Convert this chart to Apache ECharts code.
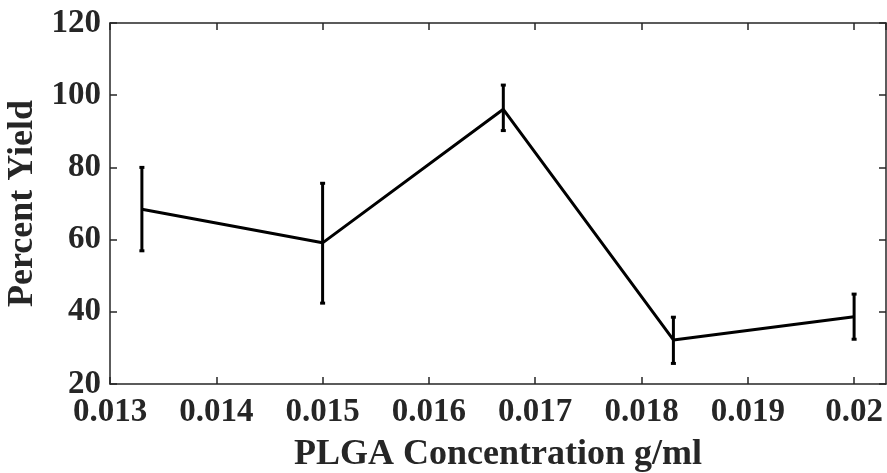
<!DOCTYPE html>
<html>
<head>
<meta charset="utf-8">
<script src="https://cdn.jsdelivr.net/npm/echarts@6/dist/echarts.min.js"></script>
<style>
html,body{margin:0;padding:0;background:#fff;}
#c{width:887px;height:473px;}
</style>
</head>
<body>
<div id="c"></div>
<script>
const concentration = [0.0133, 0.015, 0.0167, 0.0183, 0.02];
const percentYield = [68.4, 59.1, 96.1, 32.2, 38.6];
const errLow = [56.9, 42.4, 90.2, 25.7, 32.4];
const errHigh = [80.0, 75.6, 102.8, 38.5, 44.9];
const xTicks = [0.013, 0.014, 0.015, 0.016, 0.017, 0.018, 0.019, 0.02];
const yTicks = [20, 40, 60, 80, 100, 120];
const xTitle = 'PLGA Concentration g/ml';
const yTitle = 'Percent Yield';

const axisColor = '#262626';
const fontFam = '"Liberation Serif", "Times New Roman", serif';

const lineData = concentration.map((x, i) => [x, percentYield[i]]);
const errData = concentration.map((x, i) => [x, errLow[i], errHigh[i]]);

const chart = echarts.init(document.getElementById('c'), null, {renderer: 'canvas'});

const baseX = {
  type: 'value',
  min: xTicks[0],
  max: 0.0203,
  interval: 0.001,
  splitLine: {show: false},
  axisLine: {show: true, onZero: false, lineStyle: {color: axisColor, width: 1.5}},
  axisTick: {show: true, inside: true, length: 7, lineStyle: {color: axisColor, width: 1.5}}
};
const baseY = {
  type: 'value',
  min: yTicks[0],
  max: yTicks[yTicks.length - 1],
  interval: 20,
  splitLine: {show: false},
  axisLine: {show: true, onZero: false, lineStyle: {color: axisColor, width: 1.5}},
  axisTick: {show: true, inside: true, length: 7, lineStyle: {color: axisColor, width: 1.5}}
};

chart.setOption({
  backgroundColor: '#fff',
  animation: false,
  grid: {left: 110, right: 1, top: 23, bottom: 89, containLabel: false, outerBoundsMode: 'none'},
  xAxis: [
    Object.assign({}, baseX, {
      position: 'bottom',
      name: xTitle,
      nameLocation: 'middle',
      nameGap: 53,
      nameTextStyle: {fontFamily: fontFam, fontWeight: 'bold', fontSize: 36, color: axisColor},
      axisLabel: {
        show: true, margin: 12, showMaxLabel: false,
        fontFamily: fontFam, fontWeight: 'bold', fontSize: 33, color: axisColor,
        formatter: v => {
          const r = +(+v).toFixed(4);
          return xTicks.some(t => Math.abs(t - r) < 1e-9) ? String(r) : '';
        }
      }
    }),
    Object.assign({}, baseX, {position: 'top', axisLabel: {show: false}})
  ],
  yAxis: [
    Object.assign({}, baseY, {
      position: 'left',
      name: yTitle,
      nameLocation: 'middle',
      nameGap: 62,
      nameRotate: 90,
      nameTextStyle: {fontFamily: fontFam, fontWeight: 'bold', fontSize: 36, color: axisColor},
      axisLabel: {
        show: true, margin: 9,
        fontFamily: fontFam, fontWeight: 'bold', fontSize: 33, color: axisColor
      }
    }),
    Object.assign({}, baseY, {position: 'right', axisLabel: {show: false}})
  ],
  series: [
    {
      type: 'line',
      data: lineData,
      xAxisIndex: 0, yAxisIndex: 0,
      symbol: 'none',
      lineStyle: {color: '#000', width: 3},
      z: 3
    },
    {
      type: 'custom',
      data: errData,
      xAxisIndex: 0, yAxisIndex: 0,
      z: 4,
      renderItem: function (params, api) {
        const x = api.value(0);
        const lo = api.coord([x, api.value(1)]);
        const hi = api.coord([x, api.value(2)]);
        const cw = 2.5;
        const style = {stroke: '#000', lineWidth: 3};
        return {
          type: 'group',
          children: [
            {type: 'line', shape: {x1: lo[0], y1: lo[1], x2: hi[0], y2: hi[1]}, style: style},
            {type: 'line', shape: {x1: lo[0] - cw, y1: lo[1], x2: lo[0] + cw, y2: lo[1]}, style: style},
            {type: 'line', shape: {x1: hi[0] - cw, y1: hi[1], x2: hi[0] + cw, y2: hi[1]}, style: style}
          ]
        };
      }
    }
  ]
});
</script>
</body>
</html>
